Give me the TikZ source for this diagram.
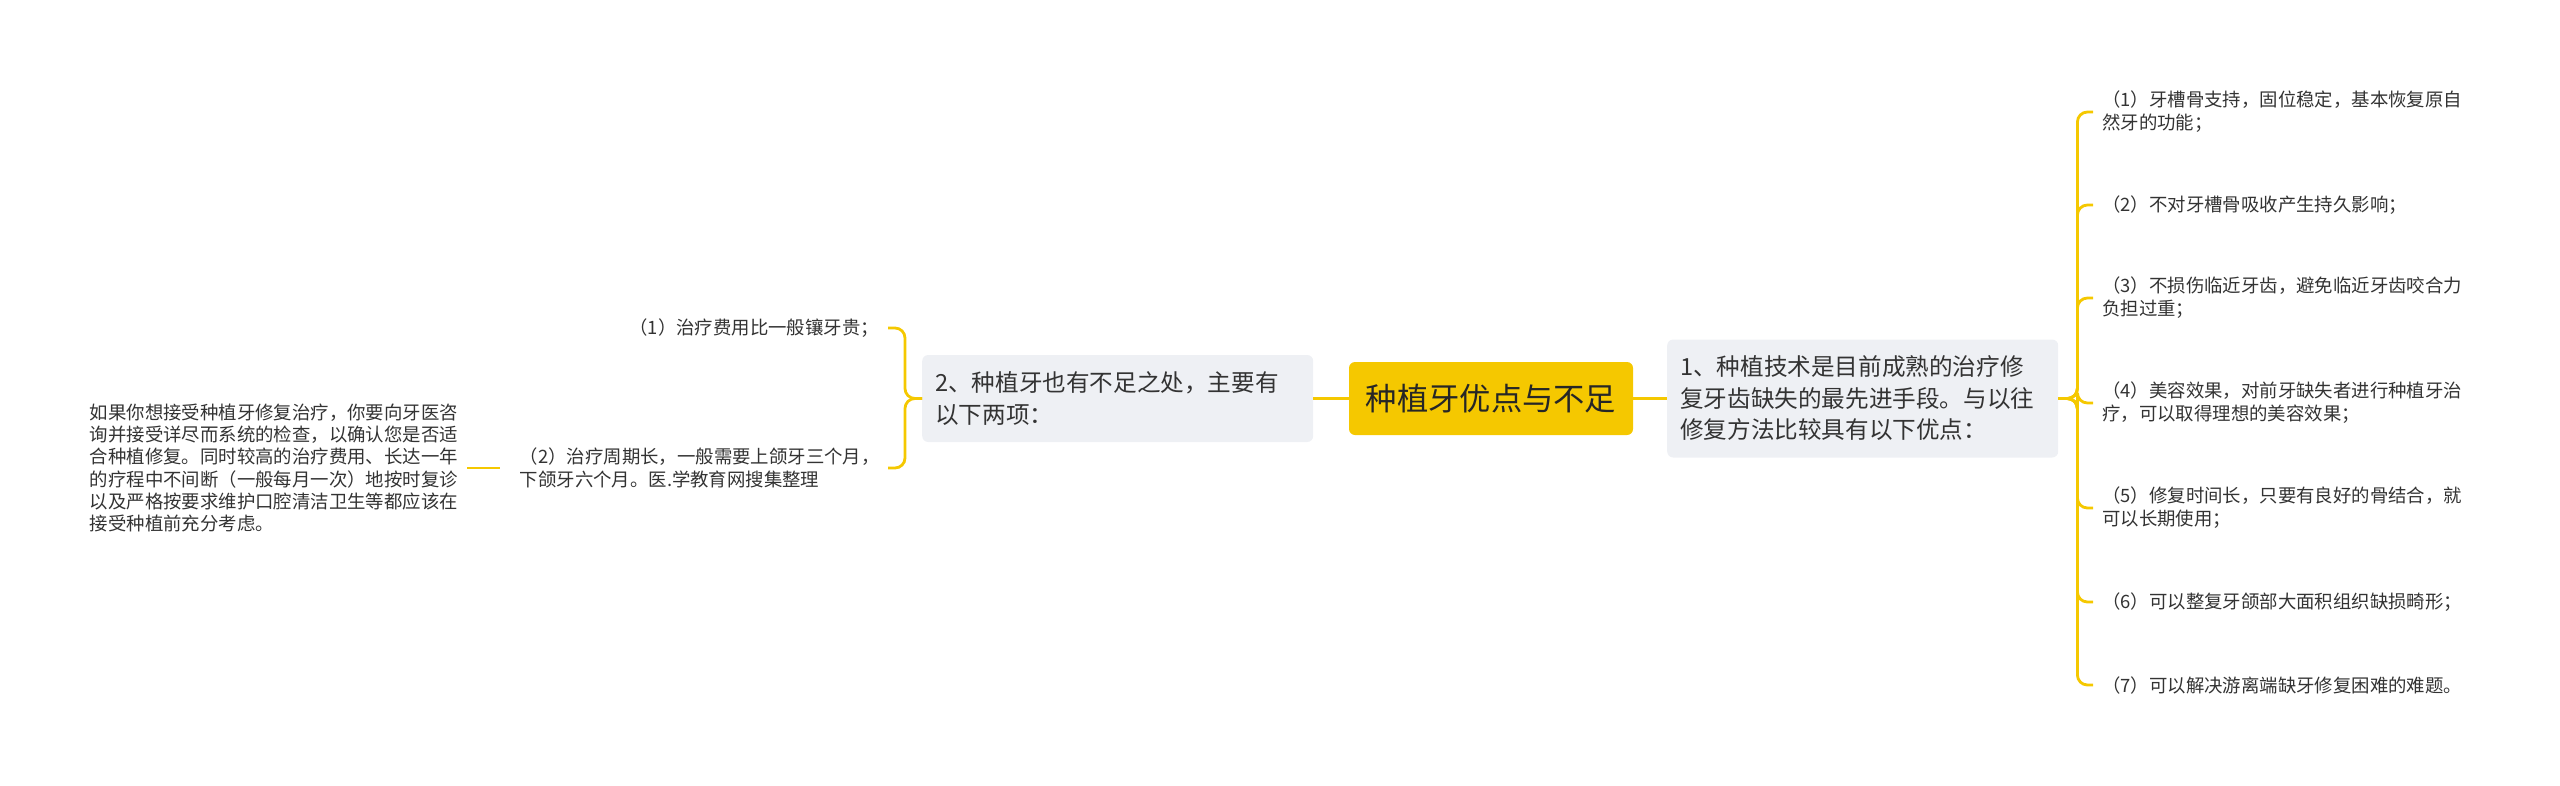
\documentclass[tikz,border=0pt]{standalone}
\usepackage{fontspec}
\setmainfont{Noto Sans CJK SC}
\definecolor{mapyellow}{RGB}{245,200,0}
\definecolor{topicgray}{RGB}{238,240,244}
\definecolor{inkgray}{RGB}{51,51,51}

\begin{document}
\begin{tikzpicture}[x=1pt, y=-1pt,
  link/.style={mapyellow, line width=2.8pt, rounded corners=10pt},
  root/.style={fill=mapyellow, rounded corners=6pt, minimum width=284pt, minimum height=73pt, inner sep=0pt, text=black!85, font=\fontsize{31.3}{36}\selectfont},
  topic/.style={fill=topicgray, rounded corners=6pt, anchor=west, text width=365pt, align=left, inner xsep=13pt, inner ysep=0pt, text=inkgray, font=\fontsize{23.6}{31.5}\selectfont},
  item/.style={text=inkgray, align=left, inner xsep=9pt, inner ysep=2pt, font=\fontsize{18.4}{23}\selectfont}]
  \useasboundingbox (0,0) rectangle (2560,785);

  \node[root] (root) at (1491,398.5) {种植牙优点与不足};
  \node[topic, minimum height=118pt] (pro) at (1667,398.5) {1、种植技术是目前成熟的治疗修\\复牙齿缺失的最先进手段。与以往\\修复方法比较具有以下优点：};
  \node[topic, minimum height=87pt] (con) at (922,398.5) {2、种植牙也有不足之处，主要有\\以下两项：};

  \node[item, anchor=west, text width=365pt] (p1) at (2093,112) {（1）牙槽骨支持，固位稳定，基本恢复原自\\然牙的功能；};
  \node[item, anchor=west, text width=365pt] (p2) at (2093,205) {（2）不对牙槽骨吸收产生持久影响；};
  \node[item, anchor=west, text width=365pt] (p3) at (2093,298) {（3）不损伤临近牙齿，避免临近牙齿咬合力\\负担过重；};
  \node[item, anchor=west, text width=365pt] (p4) at (2093,403) {（4）美容效果，对前牙缺失者进行种植牙治\\疗，可以取得理想的美容效果；};
  \node[item, anchor=west, text width=365pt] (p5) at (2093,508) {（5）修复时间长，只要有良好的骨结合，就\\可以长期使用；};
  \node[item, anchor=west, text width=365pt] (p6) at (2093,602) {（6）可以整复牙颌部大面积组织缺损畸形；};
  \node[item, anchor=west, text width=365pt] (p7) at (2093,685) {（7）可以解决游离端缺牙修复困难的难题。};

  \node[item, anchor=east] (c1) at (888,328) {（1）治疗费用比一般镶牙贵；};
  \node[item, anchor=east, text width=362pt, inner xsep=6pt] (c2) at (888,468) {（2）治疗周期长，一般需要上颌牙三个月，\\下颌牙六个月。医.学教育网搜集整理};
  \node[item, anchor=east, text width=372pt, inner xsep=5pt, font=\fontsize{18.4}{22.3}\selectfont] (far) at (467,468) {如果你想接受种植牙修复治疗，你要向牙医咨\\询并接受详尽而系统的检查，以确认您是否适\\合种植修复。同时较高的治疗费用、长达一年\\的疗程中不间断（一般每月一次）地按时复诊\\以及严格按要求维护口腔清洁卫生等都应该在\\接受种植前充分考虑。};

  \draw[link] (con.east) -- (root.west);
  \draw[link] (root.east) -- (pro.west);
  \foreach \i in {1,...,7}
    \draw[link] (pro.east) -- ++(19,0) |- (p\i.west);
  \foreach \i in {1,2}
    \draw[link] (con.west) -- ++(-17,0) |- (c\i.east);
  \draw[link, shorten <=14pt] (c2.west) -- (far.east);
\end{tikzpicture}
\end{document}
